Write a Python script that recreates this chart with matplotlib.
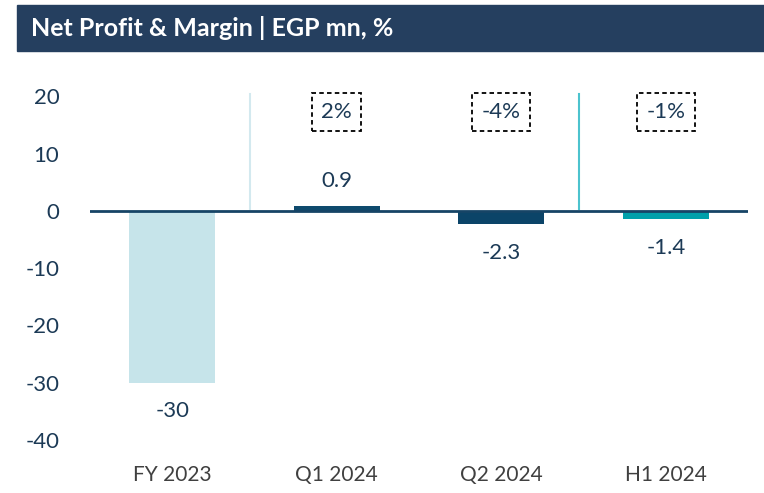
import matplotlib.pyplot as plt
from matplotlib.patches import Rectangle

# data
categories = ["FY 2023", "Q1 2024", "Q2 2024", "H1 2024"]
net_profit = [-30, 0.9, -2.3, -1.4]
value_labels = ["-30", "0.9", "-2.3", "-1.4"]
margin_labels = [None, "2%", "-4%", "-1%"]
bar_colors = ["#C6E4EA", "#0E4A6D", "#0B4468", "#00A0AA"]

navy = "#1C3A56"
plt.rcParams['font.family'] = ['Lato', 'DejaVu Sans']
plt.rcParams['axes.unicode_minus'] = False

fig = plt.figure(figsize=(7.64, 4.93), dpi=100)

# title bar
fig.patches.append(Rectangle((17 / 764, 1 - 51 / 493), 1 - 17 / 764, 46 / 493,
                             transform=fig.transFigure, color="#253F5F", zorder=0))
fig.text(31 / 764, 1 - 28 / 493, "Net Profit & Margin | EGP mn, %", color="white",
         fontsize=18, fontweight="bold", va="center", ha="left")

ax = fig.add_axes([90 / 764, 53 / 493, 658 / 764, 355 / 493])
x = range(len(categories))
ax.bar(x, net_profit, width=0.52, color=bar_colors, zorder=2)
ax.axhline(0, color="#164466", lw=2, zorder=3)

# separators
ax.plot([0.47, 0.47], [0.3, 20.5], color="#D3E9EF", lw=1.5, zorder=1)
ax.plot([2.47, 2.47], [0.3, 20.5], color="#4CC3CE", lw=1.5, zorder=1)

for i, v in enumerate(net_profit):
    y = 5.3 if v > 0 else v - 5.0
    ax.text(i, y, value_labels[i], ha="center", va="center", fontsize=16, color=navy)
    if margin_labels[i]:
        ax.text(i, 17.3, margin_labels[i], ha="center", va="center", fontsize=16,
                color=navy,
                bbox=dict(boxstyle="square,pad=0.42", fc="white", ec="black",
                          ls=(0, (2.5, 1.8)), lw=1.3))

ax.set_xlim(-0.5, 3.5)
ax.set_ylim(-40, 22)
ax.set_yticks([20, 10, 0, -10, -20, -30, -40])
ax.set_xticks(list(x))
ax.set_xticklabels(categories)
ax.tick_params(axis="y", length=0, labelsize=16, labelcolor=navy, pad=22)
ax.tick_params(axis="x", length=0, labelsize=15, labelcolor="#404040", pad=18)
for s in ax.spines.values():
    s.set_visible(False)

fig.savefig("out.png", dpi=100)
